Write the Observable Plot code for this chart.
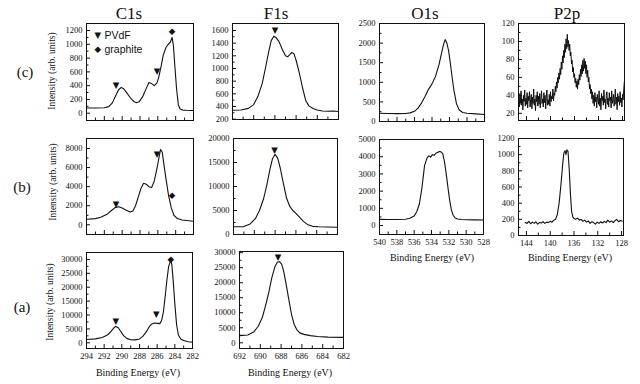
<!DOCTYPE html>
<html><head><meta charset="utf-8">
<script src="https://cdn.jsdelivr.net/npm/d3@7"></script>
<script src="https://cdn.jsdelivr.net/npm/@observablehq/plot@0.6"></script>
<style>
body{margin:0;background:#fff;}
#root{position:relative;width:640px;height:384px;overflow:hidden;font-family:"Liberation Serif",serif;color:#111;background:#fff;}
.lbl{position:absolute;white-space:nowrap;transform:translate(-50%,-50%);line-height:1;}
.rot{transform:translate(-50%,-50%) rotate(-90deg);}
</style></head><body><div id="root"></div>
<script>
// ---------- text ----------
const columnTitles = ["C1s", "F1s", "O1s", "P2p"];
const rowLabels = ["(c)", "(b)", "(a)"];
const yAxisLabel = "Intensity (arb. units)";
const xAxisLabel = "Binding Energy (eV)";
const legendNames = ["PVdF", "graphite"];
const legendSymbols = ["▼", "◆"];

// ---------- row (c) ----------
const c1sC_x = [294, 293, 292, 291.5, 291.1, 290.7, 290.4, 290.1, 289.8, 289.4, 289.0, 288.7, 288.4, 288.1, 287.7, 287.3, 287.0, 286.7, 286.4, 286.1, 285.9, 285.6, 285.4, 285.1, 284.9, 284.6, 284.4, 284.25, 284.1, 283.9, 283.7, 283.5, 283.2, 282.8, 282.3, 282];
const c1sC_y = [75, 76, 80, 95, 150, 260, 340, 375, 350, 280, 210, 170, 152, 165, 240, 360, 445, 430, 400, 440, 520, 700, 840, 950, 990, 1030, 1100, 980, 700, 355, 120, 60, 45, 42, 40, 40];
const c1sC_mx = [290.7, 286.1, 284.4];
const c1sC_my = [400, 605, 1190];
const c1sC_ms = ["▼", "▼", "◆"];

const f1sC_x = [692, 691.2, 690.5, 690.0, 689.6, 689.2, 688.9, 688.6, 688.35, 688.1, 687.9, 687.6, 687.3, 687.0, 686.8, 686.6, 686.4, 686.2, 686.0, 685.7, 685.4, 685.1, 684.8, 684.4, 684.0, 683.5, 683.0, 682.5, 682];
const f1sC_y = [340, 345, 370, 430, 560, 760, 1000, 1250, 1440, 1510, 1490, 1420, 1300, 1200, 1185, 1220, 1255, 1230, 1130, 930, 700, 500, 410, 370, 345, 330, 325, 328, 322];
const f1sC_mx = [688.0];
const f1sC_my = [1610];
const f1sC_ms = ["▼"];

const o1sC_x = [540, 539, 538, 537, 536.5, 536, 535.6, 535.2, 534.8, 534.4, 534.0, 533.6, 533.2, 532.9, 532.7, 532.5, 532.3, 532.1, 531.9, 531.7, 531.5, 531.2, 530.9, 530.5, 530, 529, 528];
const o1sC_y = [210, 205, 200, 205, 220, 260, 340, 470, 640, 820, 960, 1150, 1450, 1750, 1950, 2090, 2000, 1800, 1480, 1130, 800, 450, 300, 230, 210, 195, 180];

const p2pC_x = [
  145.3, 145.2, 145.1, 145.0, 144.9, 144.8, 144.7, 144.6, 144.5, 144.4,
  144.3, 144.2, 144.1, 144.0, 143.9, 143.8, 143.7, 143.6, 143.5, 143.4,
  143.3, 143.2, 143.1, 143.0, 142.9, 142.8, 142.7, 142.6, 142.5, 142.4,
  142.3, 142.2, 142.1, 142.0, 141.9, 141.8, 141.7, 141.6, 141.5, 141.4,
  141.3, 141.2, 141.1, 141.0, 140.9, 140.8, 140.7, 140.6, 140.5, 140.4,
  140.3, 140.2, 140.1, 140.0, 139.9, 139.8, 139.7, 139.6, 139.5, 139.4,
  139.3, 139.2, 139.1, 139.0, 138.9, 138.8, 138.7, 138.6, 138.5, 138.4,
  138.3, 138.2, 138.1, 138.0, 137.9, 137.8, 137.7, 137.6, 137.5, 137.4,
  137.3, 137.2, 137.1, 137.0, 136.9, 136.8, 136.7, 136.6, 136.5, 136.4,
  136.3, 136.2, 136.1, 136.0, 135.9, 135.8, 135.7, 135.6, 135.5, 135.4,
  135.3, 135.2, 135.1, 135.0, 134.9, 134.8, 134.7, 134.6, 134.5, 134.4,
  134.3, 134.2, 134.1, 134.0, 133.9, 133.8, 133.7, 133.6, 133.5, 133.4,
  133.3, 133.2, 133.1, 133.0, 132.9, 132.8, 132.7, 132.6, 132.5, 132.4,
  132.3, 132.2, 132.1, 132.0, 131.9, 131.8, 131.7, 131.6, 131.5, 131.4,
  131.3, 131.2, 131.1, 131.0, 130.9, 130.8, 130.7, 130.6, 130.5, 130.4,
  130.3, 130.2, 130.1, 130.0, 129.9, 129.8, 129.7, 129.6, 129.5, 129.4,
  129.3, 129.2, 129.1, 129.0, 128.9, 128.8, 128.7, 128.6, 128.5, 128.4,
  128.3, 128.2, 128.1, 128.0, 127.9, 127.8, 127.7];
const p2pC_y = [
  38, 27, 42, 31, 45, 29, 36, 24, 40, 33,
  46, 28, 37, 30, 43, 26, 39, 34, 44, 27,
  35, 41, 25, 38, 31, 47, 29, 36, 23, 40,
  33, 44, 28, 39, 30, 42, 26, 37, 45, 31,
  36, 27, 43, 32, 40, 25, 38, 46, 29, 35,
  30, 41, 28, 44, 33, 39, 36, 47, 34, 43,
  40, 50, 44, 55, 48, 60, 54, 65, 58, 70,
  63, 77, 69, 84, 76, 90, 82, 97, 88, 103,
  92, 108, 94, 101, 90, 97, 84, 88, 75, 79,
  66, 71, 60, 64, 54, 59, 49, 56, 47, 58,
  52, 63, 57, 69, 61, 74, 64, 79, 67, 81,
  70, 78, 64, 74, 60, 68, 55, 60, 47, 52,
  42, 47, 36, 44, 31, 40, 28, 43, 33, 38,
  26, 41, 35, 30, 45, 28, 37, 24, 42, 34,
  39, 29, 46, 32, 36, 25, 40, 44, 30, 37,
  27, 43, 34, 38, 26, 45, 31, 36, 41, 28,
  35, 47, 30, 38, 24, 42, 33, 39, 29, 44,
  32, 37, 27, 41, 35, 46, 55];

// ---------- row (b) ----------
const c1sB_x = [294, 293, 292.4, 291.7, 291.2, 290.8, 290.4, 290.0, 289.6, 289.1, 288.8, 288.5, 288.2, 287.9, 287.6, 287.3, 287.0, 286.7, 286.4, 286.1, 285.9, 285.7, 285.5, 285.3, 285.05, 284.8, 284.5, 284.2, 283.8, 283.3, 282.5, 282];
const c1sB_y = [580, 650, 800, 1100, 1500, 1800, 1900, 1750, 1550, 1330, 1450, 2000, 2900, 3800, 4350, 4250, 4000, 3900, 4600, 5900, 6900, 7900, 7600, 6200, 4600, 3100, 1800, 1000, 650, 500, 420, 380];
const c1sB_mx = [290.7, 286.1, 284.4];
const c1sB_my = [2130, 7370, 3070];
const c1sB_ms = ["▼", "▼", "◆"];

const f1sB_x = [692, 691, 690.4, 689.9, 689.5, 689.1, 688.8, 688.5, 688.25, 688.0, 687.75, 687.5, 687.2, 686.9, 686.6, 686.3, 686.0, 685.7, 685.3, 684.9, 684.4, 683.8, 683, 682];
const f1sB_y = [1600, 1650, 2200, 3300, 5000, 7500, 10300, 13500, 15800, 16700, 15900, 13800, 10600, 7600, 5900, 5000, 4400, 3700, 2800, 2100, 1700, 1600, 1550, 1500];
const f1sB_mx = [688.05];
const f1sB_my = [17530];
const f1sB_ms = ["▼"];

const o1sB_x = [540, 539, 538, 537, 536.5, 536.0, 535.7, 535.4, 535.1, 534.8, 534.5, 534.3, 534.1, 533.9, 533.7, 533.5, 533.3, 533.1, 532.9, 532.7, 532.5, 532.3, 532.1, 531.9, 531.7, 531.5, 531.3, 531.0, 530.6, 530.0, 529.0, 528];
const o1sB_y = [360, 350, 350, 370, 420, 560, 800, 1250, 2200, 3500, 3950, 4050, 3980, 4120, 4080, 4200, 4250, 4300, 4280, 4180, 3700, 3000, 2200, 1450, 900, 600, 450, 380, 350, 340, 330, 320];

const p2pB_x = [144.2, 143.9, 143.6, 143.3, 143.0, 142.7, 142.4, 142.1, 141.8, 141.5, 141.2, 140.9, 140.6, 140.3, 140.0, 139.7, 139.4, 139.1, 138.8, 138.5, 138.2, 137.9, 137.7, 137.5, 137.35, 137.2, 137.0, 136.8, 136.6, 136.4, 136.2, 136.0, 135.7, 135.4, 135.1, 134.8, 134.5, 134.2, 133.9, 133.6, 133.3, 133.0, 132.7, 132.4, 132.1, 131.8, 131.5, 131.2, 130.9, 130.6, 130.3, 130.0, 129.7, 129.4, 129.1, 128.8, 128.5, 128.2, 127.9];
const p2pB_y = [160, 150, 175, 145, 165, 150, 170, 140, 160, 155, 170, 150, 165, 160, 175, 165, 190, 200, 260, 400, 620, 880, 1020, 1050, 1000, 1060, 1040, 820, 520, 300, 230, 210, 200, 215, 190, 200, 175, 190, 165, 180, 150, 170, 160, 140, 165, 150, 170, 155, 175, 160, 190, 165, 180, 160, 185, 200, 170, 185, 175];

// ---------- row (a) ----------
const c1sA_x = [294, 293, 292.2, 291.6, 291.2, 290.9, 290.7, 290.4, 290.1, 289.8, 289.4, 289.0, 288.5, 288.0, 287.6, 287.2, 286.9, 286.6, 286.3, 286.0, 285.7, 285.5, 285.3, 285.1, 284.9, 284.7, 284.5, 284.35, 284.2, 284.0, 283.8, 283.6, 283.3, 283.0, 282.5, 282];
const c1sA_y = [1200, 1400, 1900, 2900, 4200, 5400, 5900, 5400, 4000, 2600, 1500, 1100, 1050, 1400, 2400, 4100, 5800, 6800, 7100, 7000, 6900, 8000, 11000, 16500, 22500, 27500, 29300, 28500, 23000, 14000, 6500, 2800, 1300, 800, 400, 250];
const c1sA_mx = [290.7, 286.1, 284.45];
const c1sA_my = [7670, 10200, 30240];
const c1sA_ms = ["▼", "▼", "◆"];

const f1sA_x = [692, 691.2, 690.6, 690.2, 689.8, 689.5, 689.2, 688.9, 688.6, 688.35, 688.15, 687.95, 687.75, 687.5, 687.25, 687.0, 686.75, 686.5, 686.2, 685.8, 685.2, 684.5, 683.5, 682];
const f1sA_y = [2400, 2600, 3700, 5500, 8500, 12300, 16500, 21500, 25300, 26900, 27000, 26200, 23800, 19200, 14200, 9500, 6200, 4400, 3300, 2800, 2400, 2100, 1900, 1800];
const f1sA_mx = [688.3];
const f1sA_my = [28500];
const f1sA_ms = ["▼"];

// ---------- ticks ----------
const c1sTicks = [294, 292, 290, 288, 286, 284, 282];
const c1sMinor = [293, 291, 289, 287, 285, 283];
const f1sTicks = [692, 690, 688, 686, 684, 682];
const f1sMinor = [691, 689, 687, 685, 683];
const o1sTicks = [540, 538, 536, 534, 532, 530, 528];
const o1sMinor = [539, 537, 535, 533, 531, 529];
const p2pTicks = [144, 140, 136, 132, 128];
const p2pMinor = [142, 138, 134, 130];

const ink = "#111";
const serif = "Liberation Serif";
const root = document.getElementById("root");
const ML = 40, MR = 3, MT = 3, MB = 16;

function panel(o) {
  const [l, t, r, b] = o.frame;
  const w = r - l, h = b - t;
  const data = o.x.map((v, i) => ({x: v, y: o.y[i]}));
  const marks = [
    Plot.frame({stroke: ink, strokeWidth: 1}),
    Plot.tickX(o.xTicks, {x: d => d, stroke: ink, insetTop: h - 4}),
    Plot.tickX(o.xMinor, {x: d => d, stroke: ink, insetTop: h - 2.5}),
    Plot.tickY(o.yTicks, {y: d => d, stroke: ink, insetRight: w - 4}),
    Plot.tickY(o.yMinor, {y: d => d, stroke: ink, insetRight: w - 2.5}),
    Plot.axisY({ticks: o.yTicks, tickSize: 0, tickPadding: 4, fontSize: 8.5, fontFamily: serif, fill: ink, tickFormat: d => String(d), label: null}),
    Plot.axisX({ticks: o.xTicks, tickSize: 0, tickPadding: 4, fontSize: 8.5, fontFamily: serif, fill: ink, tickFormat: o.xLabels ? (d => String(d)) : (() => ""), label: null}),
    Plot.line(data, {x: "x", y: "y", stroke: ink, strokeWidth: o.sw || 1.1})
  ];
  if (o.mx) {
    const md = o.mx.map((v, i) => ({x: v, y: o.my[i], s: o.ms[i]}));
    marks.push(Plot.text(md, {x: "x", y: "y", text: "s", fontSize: 8.5, fill: ink, fontFamily: "DejaVu Sans"}));
  }
  if (o.extra) marks.push(...o.extra);
  const svg = Plot.plot({
    width: w + ML + MR, height: h + MT + MB,
    marginLeft: ML, marginRight: MR, marginTop: MT, marginBottom: MB,
    x: {domain: o.xDomain, label: null},
    y: {domain: o.yDomain, label: null},
    style: {fontFamily: serif, fontSize: "8.5px", background: "transparent", overflow: "visible", color: ink},
    marks
  });
  svg.style.position = "absolute";
  svg.style.left = (l - ML) + "px";
  svg.style.top = (t - MT) + "px";
  root.append(svg);
}

const legendMarks = [
  Plot.text([legendSymbols[0]], {frameAnchor: "top-left", dx: 8, dy: 8, fontSize: 8.5, fill: ink, fontFamily: "DejaVu Sans"}),
  Plot.text([legendSymbols[1]], {frameAnchor: "top-left", dx: 8, dy: 22, fontSize: 8.5, fill: ink, fontFamily: "DejaVu Sans"}),
  Plot.text([legendNames[0]], {frameAnchor: "top-left", dx: 18, dy: 8, fontSize: 10.5, fill: ink, textAnchor: "start", fontFamily: "Liberation Sans"}),
  Plot.text([legendNames[1]], {frameAnchor: "top-left", dx: 18, dy: 22, fontSize: 10.5, fill: ink, textAnchor: "start", fontFamily: "Liberation Sans"})
];

// row (c)
panel({frame: [86, 23, 193, 120], x: c1sC_x, y: c1sC_y, xDomain: [294, 282], yDomain: [-106, 1302],
  xTicks: c1sTicks, xMinor: c1sMinor, yTicks: [0, 200, 400, 600, 800, 1000, 1200], yMinor: [100, 300, 500, 700, 900, 1100],
  mx: c1sC_mx, my: c1sC_my, ms: c1sC_ms, extra: legendMarks});
panel({frame: [232, 23, 338, 119], x: f1sC_x, y: f1sC_y, xDomain: [692, 682], yDomain: [195, 1710],
  xTicks: f1sTicks, xMinor: f1sMinor, yTicks: [200, 400, 600, 800, 1000, 1200, 1400, 1600], yMinor: [300, 500, 700, 900, 1100, 1300, 1500],
  mx: f1sC_mx, my: f1sC_my, ms: f1sC_ms});
panel({frame: [379, 23, 484, 121], x: o1sC_x, y: o1sC_y, xDomain: [540, 528], yDomain: [0, 2500],
  xTicks: o1sTicks, xMinor: o1sMinor, yTicks: [0, 500, 1000, 1500, 2000, 2500], yMinor: [250, 750, 1250, 1750, 2250]});
panel({frame: [518, 23, 624, 120], x: p2pC_x, y: p2pC_y, xDomain: [145.33, 127.67], yDomain: [12, 120],
  xTicks: p2pTicks, xMinor: p2pMinor, yTicks: [20, 40, 60, 80, 100, 120], yMinor: [30, 50, 70, 90, 110], sw: 1});

// row (b)
panel({frame: [86, 138, 193, 234], x: c1sB_x, y: c1sB_y, xDomain: [294, 282], yDomain: [-1017, 9048],
  xTicks: c1sTicks, xMinor: c1sMinor, yTicks: [0, 2000, 4000, 6000, 8000], yMinor: [1000, 3000, 5000, 7000],
  mx: c1sB_mx, my: c1sB_my, ms: c1sB_ms});
panel({frame: [233, 138, 337, 234], x: f1sB_x, y: f1sB_y, xDomain: [692, 682], yDomain: [0, 20000],
  xTicks: f1sTicks, xMinor: f1sMinor, yTicks: [0, 5000, 10000, 15000, 20000], yMinor: [2500, 7500, 12500, 17500],
  mx: f1sB_mx, my: f1sB_my, ms: f1sB_ms});
panel({frame: [379, 139, 483, 234], x: o1sB_x, y: o1sB_y, xDomain: [540, 528], yDomain: [-520, 5000],
  xTicks: o1sTicks, xMinor: o1sMinor, yTicks: [0, 1000, 2000, 3000, 4000, 5000], yMinor: [500, 1500, 2500, 3500, 4500], xLabels: true});
panel({frame: [518, 138, 623, 235], x: p2pB_x, y: p2pB_y, xDomain: [145.33, 127.67], yDomain: [0, 1200],
  xTicks: p2pTicks, xMinor: p2pMinor, yTicks: [0, 200, 400, 600, 800, 1000, 1200], yMinor: [100, 300, 500, 700, 900, 1100], xLabels: true});

// row (a)
panel({frame: [86, 252, 192, 348], x: c1sA_x, y: c1sA_y, xDomain: [294, 282], yDomain: [-2050, 32500],
  xTicks: c1sTicks, xMinor: c1sMinor, yTicks: [0, 5000, 10000, 15000, 20000, 25000, 30000], yMinor: [2500, 7500, 12500, 17500, 22500, 27500],
  mx: c1sA_mx, my: c1sA_my, ms: c1sA_ms, xLabels: true});
panel({frame: [239, 251, 343, 348], x: f1sA_x, y: f1sA_y, xDomain: [692, 682], yDomain: [-1900, 30400],
  xTicks: f1sTicks, xMinor: f1sMinor, yTicks: [0, 5000, 10000, 15000, 20000, 25000, 30000], yMinor: [2500, 7500, 12500, 17500, 22500, 27500],
  mx: f1sA_mx, my: f1sA_my, ms: f1sA_ms, xLabels: true});

// ---------- surrounding text ----------
function label(text, x, y, size, cls) {
  const d = document.createElement("div");
  d.className = "lbl" + (cls ? " " + cls : "");
  d.textContent = text;
  d.style.left = x + "px"; d.style.top = y + "px"; d.style.fontSize = size + "px";
  root.append(d);
}
[[129, 13], [276, 13], [425, 13], [567, 13]].forEach((p, i) => label(columnTitles[i], p[0], p[1], 17));
[[25, 72], [22, 187], [22, 307]].forEach((p, i) => label(rowLabels[i], p[0], p[1], 15));
[[53, 71], [54, 182], [51, 302]].forEach(p => label(yAxisLabel, p[0], p[1], 9.5, "rot"));
[[138, 373], [290, 373], [432, 258], [570, 258]].forEach(p => label(xAxisLabel, p[0], p[1], 10));
</script></body></html>
